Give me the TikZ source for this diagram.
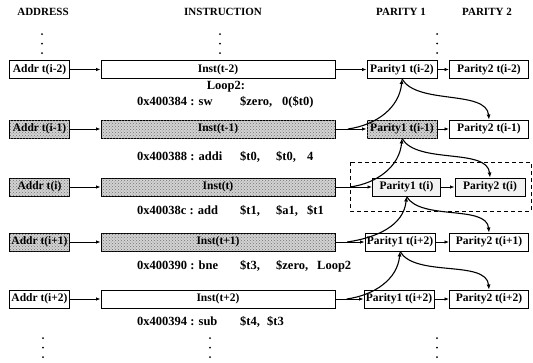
\documentclass[tikz,border=0pt]{standalone}
\usepackage{fontspec}
\setmainfont{Liberation Serif}
\usetikzlibrary{arrows.meta,patterns}
\begin{document}
\begin{tikzpicture}[x=1pt,y=1pt,
  box/.style={draw,line width=0.9pt,inner sep=0pt,minimum height=18pt,font=\fontsize{11.5}{12}\selectfont\bfseries},
  shaded/.style={fill=gray!35,postaction={pattern=crosshatch dots,pattern color=black!55}},
  light/.style={fill=gray!10},
  aw/.style={box,minimum width=60pt},
  iw/.style={box,minimum width=234pt},
  pw/.style={box,minimum width=70pt},
  qw/.style={box,minimum width=79pt},
  conn/.style={line width=0.8pt,-{Latex[length=4.5pt,width=3.5pt]}},
  curv/.style={line width=1.1pt,-{Latex[length=5pt,width=4pt]}},
  hdr/.style={font=\fontsize{11}{12}\selectfont\bfseries},
  code/.style={font=\fontsize{12.5}{14}\selectfont\bfseries,anchor=west,inner sep=0pt}
]
\useasboundingbox (0,0) rectangle (533,-362);

% headers
\node[hdr] (h1) at (43,-12) {ADDRESS};
\node[hdr] (h2) at (223,-12) {INSTRUCTION};
\node[hdr] (h3) at (401,-12) {PARITY 1};
\node[hdr] (h4) at (487,-12) {PARITY 2};

% dots
\foreach \x in {42,220,437}{
  \foreach \y in {-34,-43.5,-53}{\fill (\x,\y) circle (1pt);}}
\foreach \x in {43,210,437}{
  \foreach \y in {-338,-347.5,-357}{\fill (\x,\y) circle (1pt);}}

% row 1
\node[aw] (a1) at (39.5,-69.5) {Addr t(i-2)};
\node[iw] (i1) at (218,-69.5) {Inst(t-2)};
\node[pw] (p1) at (402,-69.5) {Parity1 t(i-2)};
\node[qw] (q1) at (489,-69.5) {Parity2 t(i-2)};
% row 2
\node[aw,shaded] (a2) at (39.5,-129) {Addr t(i-1)};
\node[iw,shaded] (i2) at (218,-129) {Inst(t-1)};
\node[pw,shaded] (p2) at (402,-129) {Parity1 t(i-1)};
\node[qw] (q2) at (489,-129) {Parity2 t(i-1)};
% row 3
\node[aw,shaded] (a3) at (39.5,-187) {Addr t(i)};
\node[iw,shaded] (i3) at (218,-187) {Inst(t)};
\node[box,light,minimum width=68pt] (p3) at (406.5,-187) {Parity1 t(i)};
\node[box,light,minimum width=70pt] (q3) at (490,-187) {Parity2 t(i)};
% row 4
\node[aw,shaded] (a4) at (39.5,-242) {Addr t(i+1)};
\node[iw,shaded] (i4) at (218,-242) {Inst(t+1)};
\node[pw] (p4) at (400,-242) {Parity1 t(i+2)};
\node[qw] (q4) at (489,-242) {Parity2 t(i+1)};
% row 5
\node[aw] (a5) at (39.5,-299) {Addr t(i+2)};
\node[iw] (i5) at (218,-299) {Inst(t+2)};
\node[pw] (p5) at (399,-299) {Parity1 t(i+2)};
\node[qw] (q5) at (489,-299) {Parity2 t(i+2)};

% dashed group
\draw[line width=1pt,dash pattern=on 4pt off 3pt] (350,-162) rectangle (531,-211);

% code
\node[font=\fontsize{12.5}{14}\selectfont\bfseries] (lp) at (226,-87) {Loop2:};
\node[code] (l1) at (137,-102) {\makebox[103pt][l]{0x400384 : sw}\makebox[42pt][l]{\$zero,}0(\$t0)};
\node[code] (l2) at (137,-157) {\makebox[103pt][l]{0x400388 : addi}\makebox[36pt][l]{\$t0,}\makebox[31pt][l]{\$t0,}4};
\node[code] (l3) at (137,-211) {\makebox[103pt][l]{0x40038c : add}\makebox[36pt][l]{\$t1,}\makebox[31pt][l]{\$a1,}\$t1};
\node[code] (l4) at (137,-266) {\makebox[103pt][l]{0x400390 : bne}\makebox[36pt][l]{\$t3,}\makebox[41pt][l]{\$zero,}Loop2};
\node[code] (l5) at (137,-322) {\makebox[103pt][l]{0x400394 : sub}\makebox[27pt][l]{\$t4,}\$t3};

% straight connectors
\foreach \k in {1,...,5}{
  \draw[conn] (a\k) -- (i\k);
  \draw[conn] (i\k) -- (p\k);
  \draw[conn] (p\k) -- (q\k);
}
% coordinates on the Inst->Parity1 arrows
\foreach \k in {2,...,5}{
  \path (i\k.east) -- (p\k.west) coordinate[pos=0.4] (c\k);
}
% curves
\foreach \k/\j in {2/1,3/2,4/3,5/4}{
  \draw[curv] (c\k) to[out=8,in=-95] (p\j.south);
  \draw[curv] (p\j.south) to[out=-60,in=95,looseness=0.8] (q\k.north);
}
\end{tikzpicture}
\end{document}
